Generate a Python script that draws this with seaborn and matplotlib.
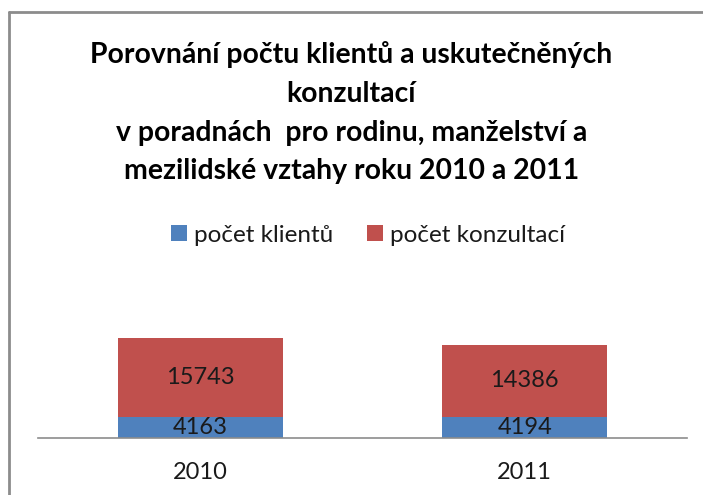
import matplotlib
matplotlib.use("Agg")
import matplotlib.pyplot as plt
import seaborn as sns
import pandas as pd
from matplotlib.patches import Patch
from matplotlib.lines import Line2D

years = ["2010", "2011"]
klienti = [4163, 4194]
konzultace = [15743, 14386]
series_names = ["počet klientů", "počet konzultací"]
title_lines = [
    "Porovnání počtu klientů a uskutečněných",
    "konzultací",
    "v poradnách  pro rodinu, manželství a",
    "mezilidské vztahy roku 2010 a 2011",
]

BLUE = "#4F81BD"
RED = "#C0504D"
FONT = ["Lato", "DejaVu Sans"]

sns.set_theme(style="white")
plt.rcParams["font.family"] = FONT

W, H = 703, 495
fig = plt.figure(figsize=(W / 100, H / 100), dpi=100)

def fx(px):
    return px / W

def fy(py):
    return 1 - py / H

ax_left, ax_right, ax_bottom, ax_top = 38, 687, 438, 262
ax = fig.add_axes([fx(ax_left), fy(ax_bottom), fx(ax_right - ax_left), (ax_bottom - ax_top) / H])

df = pd.DataFrame({"rok": years, "klienti": klienti, "konzultace": konzultace})
df["celkem"] = df["klienti"] + df["konzultace"]

sns.barplot(data=df, x="rok", y="celkem", color=RED, width=0.51, ax=ax,
            saturation=1, linewidth=0, edgecolor="none")
sns.barplot(data=df, x="rok", y="klienti", color=BLUE, width=0.51, ax=ax,
            saturation=1, linewidth=0, edgecolor="none")

for i, (k, c) in enumerate(zip(klienti, konzultace)):
    ax.text(i, k / 2, str(k), ha="center", va="center", fontsize=17, color="#1a1a1a")
    ax.text(i, k + c / 2, str(c), ha="center", va="center", fontsize=17, color="#1a1a1a")

ax.set_xlim(-0.5, 1.5)
ax.set_ylim(0, 35000)
ax.set_xlabel("")
ax.set_ylabel("")
ax.set_yticks([])
ax.tick_params(axis="x", length=0, labelsize=17, pad=17, colors="#1a1a1a")
for s in ["top", "right", "left"]:
    ax.spines[s].set_visible(False)
ax.spines["bottom"].set_color("#8c8c8c")
ax.spines["bottom"].set_linewidth(1.2)

baselines = [63, 102, 141, 179]
for line, b in zip(title_lines, baselines):
    fig.text(0.5, fy(b), line, ha="center", va="baseline", fontsize=20.4,
             fontweight="bold", color="black")

handles = [Patch(facecolor=BLUE, edgecolor="none"), Patch(facecolor=RED, edgecolor="none")]
fig.legend(handles, series_names, loc="center", bbox_to_anchor=(fx(368), fy(235)),
           ncol=2, frameon=False, fontsize=17.5, handlelength=0.65, handleheight=0.65,
           handletextpad=0.3, columnspacing=1.4, labelcolor="#1a1a1a")

# chart border (left and top visible)
fig.add_artist(Line2D([fx(9), fx(9)], [fy(12), 0], color="#8c8c8c", lw=2, transform=fig.transFigure))
fig.add_artist(Line2D([fx(9), 1], [fy(12), fy(12)], color="#8c8c8c", lw=2, transform=fig.transFigure))

fig.savefig("out.png", dpi=100)
